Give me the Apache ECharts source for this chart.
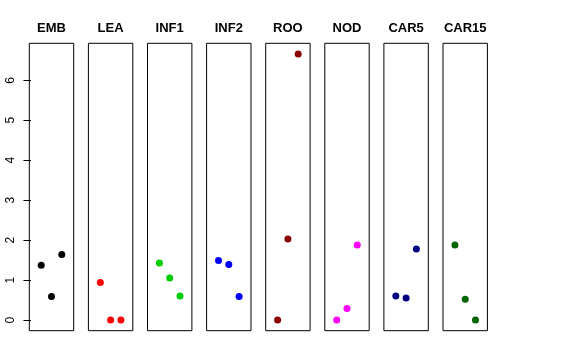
<!DOCTYPE html>
<html>
<head>
<meta charset="utf-8">
<script src="https://cdn.jsdelivr.net/npm/echarts@6/dist/echarts.min.js"></script>
<style>html,body{margin:0;padding:0;background:#fff}#c{width:576px;height:360px}</style>
</head>
<body>
<div id="c"></div>
<script>
const categories = ['EMB','LEA','INF1','INF2','ROO','NOD','CAR5','CAR15'];
const xPositions = [1, 2, 3];
const values = [
  [1.37, 0.59, 1.64],
  [0.94, 0.00, 0.00],
  [1.43, 1.05, 0.60],
  [1.49, 1.39, 0.59],
  [0.00, 2.03, 6.66],
  [0.00, 0.29, 1.88],
  [0.60, 0.55, 1.78],
  [1.88, 0.52, 0.00]
];
const yTicks = [0, 1, 2, 3, 4, 5, 6];
const colors = ['#000000','#FF0000','#00CD00','#0000FF','#8B0000','#FF00FF','#000080','#006400'];

(function () {
const FONT = 'Liberation Sans, Arial, Helvetica, sans-serif';
const yMin = -0.2664, yMax = 6.9264;
const xMin = -0.16, xMax = 4.16;
const left0 = 29.3, step = 59.1, pw = 44.4, gTop = 43.3, ph = 287.4;

const grid = [], xAxis = [], yAxis = [], series = [], title = [];
categories.forEach((cat, i) => {
  const l = left0 + step * i;
  grid.push({left: l, top: gTop, width: pw, height: ph, show: true, borderColor: '#000', borderWidth: 1, backgroundColor: 'transparent', containLabel: false});
  xAxis.push({type: 'value', gridIndex: i, min: xMin, max: xMax, show: false});
  yAxis.push({
    type: 'value', gridIndex: i, min: yMin, max: yMax, show: i === 0,
    axisLine: {show: false},
    splitLine: {show: false},
    axisTick: {show: true, length: 7.5, inside: false, customValues: yTicks, lineStyle: {color: '#000', width: 1}},
    axisLabel: {show: true, customValues: yTicks, rotate: 90, margin: 13, fontSize: 12, fontFamily: FONT, color: '#000', formatter: v => String(v)}
  });
  series.push({
    type: 'scatter', xAxisIndex: i, yAxisIndex: i,
    data: xPositions.map((x, k) => [x, values[i][k]]),
    symbol: 'circle', symbolSize: 7,
    itemStyle: {color: colors[i], opacity: 1},
    silent: true, animation: false
  });
  title.push({text: cat, left: l + pw / 2, top: 22, padding: 0, textAlign: 'center',
    textStyle: {fontSize: 13, fontWeight: 'bold', fontFamily: FONT, color: '#000'}});
});

const chart = echarts.init(document.getElementById('c'), null, {renderer: 'canvas'});
chart.setOption({animation: false, backgroundColor: '#fff', title, grid, xAxis, yAxis, series});
})();
</script>
</body>
</html>
